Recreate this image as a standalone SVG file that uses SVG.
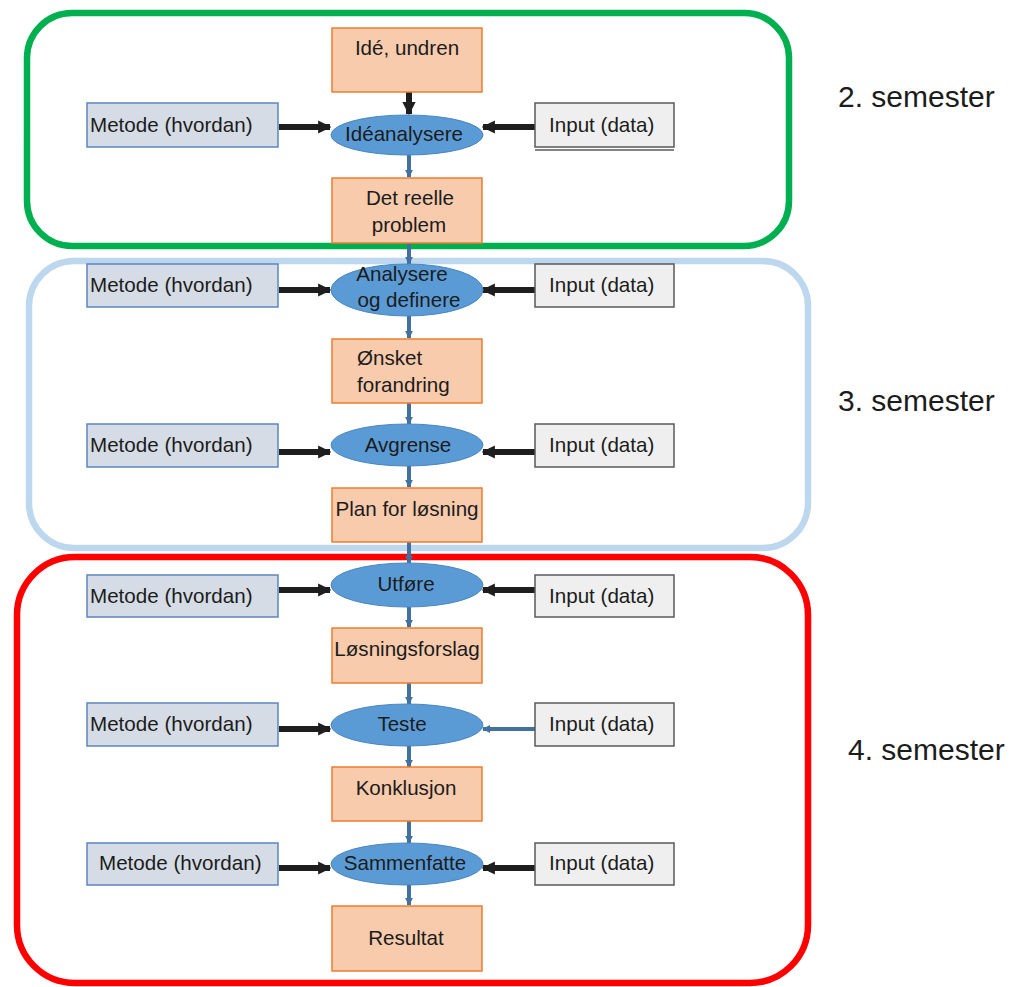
<svg xmlns="http://www.w3.org/2000/svg" width="1011" height="987" viewBox="0 0 1011 987">
  <style>
    text { font-family: "Liberation Sans", Arial, sans-serif; fill: #1c1c1c; }
    .lbl { font-size: 20.6px; }
    .mid { text-anchor: middle; }
    .sem { font-size: 30px; }
    .step { fill: #f8cbad; stroke: #ed7d31; stroke-width: 1.5; }
    .proc { fill: #5b9bd5; stroke: #4a86c0; stroke-width: 1; }
    .metode { fill: #d6dce5; stroke: #5b86c0; stroke-width: 1.5; }
    .input { fill: #efefef; stroke: #5a5a5a; stroke-width: 1.5; }
    .frame { fill: none; stroke-width: 6.5; }
    .feed { stroke: #1e1e1e; stroke-width: 6; fill: none; }
    .flow { stroke: #41719c; stroke-width: 4; fill: none; }
  </style>
  <defs>
    <marker id="headBlack" viewBox="0 0 10 10" refX="9" refY="5" markerWidth="2.2" markerHeight="2.6" orient="auto" markerUnits="strokeWidth">
      <path d="M0,0 L10,5 L0,10 Z" fill="#1e1e1e"/>
    </marker>
    <marker id="headBlue" viewBox="0 0 10 10" refX="9" refY="5" markerWidth="2" markerHeight="2.2" orient="auto" markerUnits="strokeWidth">
      <path d="M0,0 L10,5 L0,10 Z" fill="#41719c"/>
    </marker>
  </defs>

  <!-- semester frames -->
  <g id="frames">
    <rect class="frame" x="27" y="13" width="762" height="233" rx="45" stroke="#00b050"/>
    <rect class="frame" x="29" y="261" width="779" height="287" rx="45" stroke="#bdd7ee"/>
    <rect class="frame" x="17" y="557" width="791" height="426" rx="58" stroke="#ff0000"/>
  </g>

  <!-- connectors -->
  <g id="connectors">
    <!-- vertical flow -->
    <line class="feed" x1="409" y1="92" x2="409" y2="114" stroke-width="4" marker-end="url(#headBlack)"/>
    <line class="flow" x1="409" y1="155" x2="409" y2="177" marker-end="url(#headBlue)"/>
    <line class="flow" x1="409" y1="243" x2="409" y2="264" marker-end="url(#headBlue)"/>
    <line class="flow" x1="409" y1="316" x2="409" y2="338" marker-end="url(#headBlue)"/>
    <line class="flow" x1="409" y1="403" x2="409" y2="424" marker-end="url(#headBlue)"/>
    <line class="flow" x1="409" y1="466" x2="409" y2="487" marker-end="url(#headBlue)"/>
    <line class="flow" x1="409" y1="542" x2="409" y2="563" marker-end="url(#headBlue)"/>
    <line class="flow" x1="409" y1="607" x2="409" y2="627" marker-end="url(#headBlue)"/>
    <line class="flow" x1="409" y1="683" x2="409" y2="704" marker-end="url(#headBlue)"/>
    <line class="flow" x1="409" y1="746" x2="409" y2="767" marker-end="url(#headBlue)"/>
    <line class="flow" x1="409" y1="821" x2="409" y2="843" marker-end="url(#headBlue)"/>
    <line class="flow" x1="409" y1="885" x2="409" y2="905" marker-end="url(#headBlue)"/>
    <!-- method inputs -->
    <line class="feed" x1="279" y1="127" x2="330" y2="127" marker-end="url(#headBlack)"/>
    <line class="feed" x1="279" y1="290" x2="330" y2="290" marker-end="url(#headBlack)"/>
    <line class="feed" x1="279" y1="452" x2="330" y2="452" marker-end="url(#headBlack)"/>
    <line class="feed" x1="279" y1="590" x2="330" y2="590" marker-end="url(#headBlack)"/>
    <line class="feed" x1="279" y1="729" x2="330" y2="729" marker-end="url(#headBlack)"/>
    <line class="feed" x1="279" y1="868" x2="330" y2="868" marker-end="url(#headBlack)"/>
    <!-- data inputs -->
    <line class="feed" x1="535" y1="127" x2="483" y2="127" marker-end="url(#headBlack)"/>
    <line class="feed" x1="535" y1="290" x2="483" y2="290" marker-end="url(#headBlack)"/>
    <line class="feed" x1="535" y1="452" x2="483" y2="452" marker-end="url(#headBlack)"/>
    <line class="feed" x1="535" y1="590" x2="483" y2="590" marker-end="url(#headBlack)"/>
    <line class="flow" x1="535" y1="729" x2="483" y2="729" stroke-width="5" marker-end="url(#headBlue)"/>
    <line class="feed" x1="535" y1="868" x2="483" y2="868" marker-end="url(#headBlack)"/>
  </g>

  <!-- 2. semester -->
  <g id="ide-undren"><rect class="step" x="332" y="28" width="150" height="64"/><text class="lbl mid" x="407" y="55">Idé, undren</text></g>
  <g id="ideanalysere"><ellipse class="proc" cx="407" cy="135" rx="76" ry="20"/><text class="lbl mid" x="404" y="141">Idéanalysere</text></g>
  <g id="det-reelle-problem"><rect class="step" x="332" y="178" width="150" height="65"/><text class="lbl mid" x="410" y="205">Det reelle</text><text class="lbl mid" x="409" y="232">problem</text></g>
  <g id="metode-1"><rect class="metode" x="87" y="103" width="191" height="44"/><text class="lbl" x="90" y="132">Metode (hvordan)</text></g>
  <g id="input-1"><rect class="input" x="535" y="103" width="139" height="44"/><line x1="535" y1="150" x2="674" y2="150" stroke="#5a5a5a" stroke-width="1.5"/><text class="lbl" x="549" y="132">Input (data)</text></g>

  <!-- 3. semester -->
  <g id="analysere-definere"><ellipse class="proc" cx="407" cy="290" rx="76" ry="26"/><text class="lbl mid" x="402" y="281">Analysere</text><text class="lbl mid" x="409" y="307">og definere</text></g>
  <g id="metode-2"><rect class="metode" x="87" y="264" width="191" height="43"/><text class="lbl" x="90" y="292">Metode (hvordan)</text></g>
  <g id="input-2"><rect class="input" x="535" y="264" width="139" height="43"/><text class="lbl" x="549" y="292">Input (data)</text></g>
  <g id="onsket-forandring"><rect class="step" x="332" y="339" width="150" height="64"/><text class="lbl" x="357" y="365">Ønsket</text><text class="lbl" x="357" y="392">forandring</text></g>
  <g id="avgrense"><ellipse class="proc" cx="407" cy="445" rx="76" ry="21"/><text class="lbl mid" x="408" y="452">Avgrense</text></g>
  <g id="metode-3"><rect class="metode" x="87" y="424" width="191" height="43"/><text class="lbl" x="90" y="452">Metode (hvordan)</text></g>
  <g id="input-3"><rect class="input" x="535" y="424" width="139" height="43"/><text class="lbl" x="549" y="452">Input (data)</text></g>
  <g id="plan-for-losning"><rect class="step" x="332" y="488" width="150" height="54"/><text class="lbl mid" x="407" y="516">Plan for løsning</text></g>

  <!-- 4. semester -->
  <g id="utfore"><ellipse class="proc" cx="407" cy="585" rx="76" ry="22"/><text class="lbl mid" x="406" y="591">Utføre</text></g>
  <g id="metode-4"><rect class="metode" x="87" y="575" width="191" height="42"/><text class="lbl" x="90" y="603">Metode (hvordan)</text></g>
  <g id="input-4"><rect class="input" x="535" y="575" width="139" height="42"/><text class="lbl" x="549" y="603">Input (data)</text></g>
  <g id="losningsforslag"><rect class="step" x="332" y="628" width="150" height="55"/><text class="lbl mid" x="407" y="656">Løsningsforslag</text></g>
  <g id="teste"><ellipse class="proc" cx="407" cy="725" rx="76" ry="21"/><text class="lbl mid" x="402" y="731">Teste</text></g>
  <g id="metode-5"><rect class="metode" x="87" y="703" width="191" height="43"/><text class="lbl" x="90" y="731">Metode (hvordan)</text></g>
  <g id="input-5"><rect class="input" x="535" y="703" width="139" height="43"/><text class="lbl" x="549" y="731">Input (data)</text></g>
  <g id="konklusjon"><rect class="step" x="332" y="767" width="150" height="54"/><text class="lbl mid" x="406" y="795">Konklusjon</text></g>
  <g id="sammenfatte"><ellipse class="proc" cx="407" cy="864" rx="76" ry="21"/><text class="lbl mid" x="405" y="870">Sammenfatte</text></g>
  <g id="metode-6"><rect class="metode" x="87" y="843" width="191" height="42"/><text class="lbl" x="99" y="870">Metode (hvordan)</text></g>
  <g id="input-6"><rect class="input" x="535" y="843" width="139" height="42"/><text class="lbl" x="549" y="870">Input (data)</text></g>
  <g id="resultat"><rect class="step" x="332" y="906" width="150" height="65"/><text class="lbl mid" x="406" y="945">Resultat</text></g>

  <!-- semester labels -->
  <g id="semester-labels">
    <text class="sem" x="838" y="107">2. semester</text>
    <text class="sem" x="838" y="411">3. semester</text>
    <text class="sem" x="848" y="760">4. semester</text>
  </g>
</svg>
